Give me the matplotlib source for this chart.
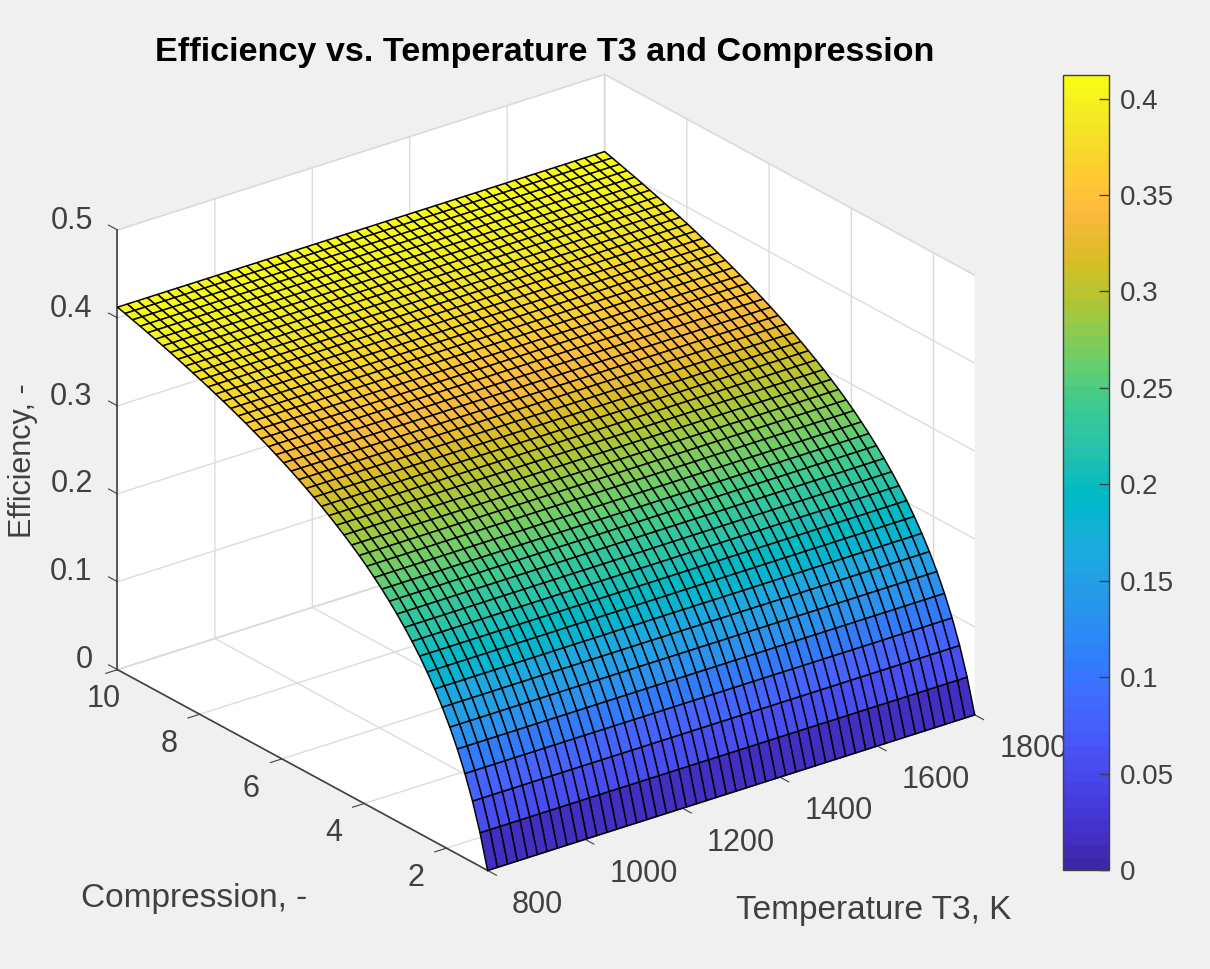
import numpy as np
import matplotlib
matplotlib.use('Agg')
import matplotlib.pyplot as plt
from matplotlib.colors import ListedColormap, Normalize

plt.rcParams['font.family'] = ['Liberation Sans', 'DejaVu Sans']

# grid (50 x 50 cells edges)
temperature = [800, 820, 841, 861, 882, 902, 922, 943, 963, 984,
               1004, 1024, 1045, 1065, 1086, 1106, 1127, 1147, 1167, 1188,
               1208, 1229, 1249, 1269, 1290, 1310, 1331, 1351, 1371, 1392,
               1412, 1433, 1453, 1473, 1494, 1514, 1535, 1555, 1576, 1596,
               1616, 1637, 1657, 1678, 1698, 1718, 1739, 1759, 1780, 1800]
compression = [1.000, 1.184, 1.367, 1.551, 1.735, 1.918, 2.102, 2.286, 2.469, 2.653,
               2.837, 3.020, 3.204, 3.388, 3.571, 3.755, 3.939, 4.122, 4.306, 4.490,
               4.673, 4.857, 5.041, 5.224, 5.408, 5.592, 5.776, 5.959, 6.143, 6.327,
               6.510, 6.694, 6.878, 7.061, 7.245, 7.429, 7.612, 7.796, 7.980, 8.163,
               8.347, 8.531, 8.714, 8.898, 9.082, 9.265, 9.449, 9.633, 9.816, 10.000]
efficiency = [0.0000, 0.0382, 0.0696, 0.0963, 0.1194, 0.1396, 0.1576, 0.1737, 0.1883, 0.2017,
              0.2139, 0.2251, 0.2356, 0.2455, 0.2546, 0.2632, 0.2713, 0.2789, 0.2861, 0.2929,
              0.2994, 0.3056, 0.3115, 0.3172, 0.3226, 0.3279, 0.3329, 0.3377, 0.3423, 0.3468,
              0.3511, 0.3552, 0.3593, 0.3631, 0.3669, 0.3705, 0.3740, 0.3775, 0.3808, 0.3840,
              0.3872, 0.3903, 0.3933, 0.3962, 0.3990, 0.4018, 0.4045, 0.4071, 0.4097, 0.4122]

x_ticks = [800, 1000, 1200, 1400, 1600, 1800]
y_ticks = [2, 4, 6, 8, 10]
z_ticks = [0, 0.1, 0.2, 0.3, 0.4, 0.5]
cbar_ticks = [0, 0.05, 0.1, 0.15, 0.2, 0.25, 0.3, 0.35, 0.4]
cbar_labels = ['0', '0.05', '0.1', '0.15', '0.2', '0.25', '0.3', '0.35', '0.4']

parula = ListedColormap([
    [0.2422, 0.1504, 0.6603], [0.2504, 0.1650, 0.7076], [0.2578, 0.1818, 0.7511], [0.2647, 0.1978, 0.7952],
    [0.2706, 0.2147, 0.8364], [0.2751, 0.2342, 0.8710], [0.2783, 0.2559, 0.8991], [0.2803, 0.2782, 0.9221],
    [0.2813, 0.3006, 0.9414], [0.2810, 0.3228, 0.9579], [0.2795, 0.3447, 0.9717], [0.2760, 0.3667, 0.9829],
    [0.2699, 0.3892, 0.9906], [0.2602, 0.4123, 0.9952], [0.2440, 0.4358, 0.9988], [0.2206, 0.4603, 0.9973],
    [0.1963, 0.4847, 0.9892], [0.1834, 0.5074, 0.9798], [0.1786, 0.5289, 0.9682], [0.1764, 0.5499, 0.9520],
    [0.1687, 0.5703, 0.9359], [0.1540, 0.5902, 0.9218], [0.1460, 0.6091, 0.9079], [0.1380, 0.6276, 0.8973],
    [0.1248, 0.6459, 0.8883], [0.1113, 0.6635, 0.8763], [0.0952, 0.6798, 0.8598], [0.0689, 0.6948, 0.8394],
    [0.0297, 0.7082, 0.8163], [0.0036, 0.7203, 0.7917], [0.0067, 0.7312, 0.7660], [0.0433, 0.7411, 0.7394],
    [0.0964, 0.7500, 0.7120], [0.1408, 0.7584, 0.6842], [0.1717, 0.7670, 0.6554], [0.1938, 0.7758, 0.6251],
    [0.2161, 0.7843, 0.5923], [0.2470, 0.7918, 0.5567], [0.2906, 0.7973, 0.5188], [0.3406, 0.8008, 0.4789],
    [0.3909, 0.8029, 0.4354], [0.4456, 0.8024, 0.3909], [0.5044, 0.7993, 0.3480], [0.5616, 0.7942, 0.3045],
    [0.6174, 0.7876, 0.2612], [0.6720, 0.7793, 0.2227], [0.7242, 0.7698, 0.1910], [0.7738, 0.7598, 0.1646],
    [0.8203, 0.7498, 0.1535], [0.8634, 0.7406, 0.1596], [0.9035, 0.7330, 0.1774], [0.9393, 0.7288, 0.2100],
    [0.9728, 0.7298, 0.2394], [0.9956, 0.7434, 0.2371], [0.9970, 0.7659, 0.2199], [0.9952, 0.7893, 0.2028],
    [0.9892, 0.8136, 0.1885], [0.9786, 0.8386, 0.1766], [0.9676, 0.8639, 0.1643], [0.9610, 0.8890, 0.1537],
    [0.9597, 0.9135, 0.1423], [0.9628, 0.9373, 0.1265], [0.9691, 0.9606, 0.1064], [0.9769, 0.9839, 0.0805]])

TEXT = '#404040'
BG = '#f0f0f0'
W, H = 1210, 969

fig = plt.figure(figsize=(W / 100, H / 100), dpi=100, facecolor=BG)

# =================================================================================================
# surface
ax = fig.add_axes([48.5 / W, -1 / H, 969 / W, 969 / H], projection='3d', proj_type='ortho', facecolor='none')
ax.view_init(elev=24.6, azim=-127.5)
ax.set_box_aspect((612, 606, 482), zoom=0.992)

X, Y = np.meshgrid(temperature, compression)
Z = np.tile(np.array(efficiency)[:, None], (1, len(temperature)))
norm = Normalize(0, max(efficiency))
surf = ax.plot_surface(X, Y, Z, rstride=1, cstride=1, cmap=parula, norm=norm,
                       edgecolor='#050505', linewidth=1.1, shade=False, antialiased=True)

ax.set_xlim(800, 1800)
ax.set_ylim(1, 10)
ax.set_zlim(0, 0.5)
ax.set_xticks(x_ticks)
ax.set_yticks(y_ticks)
ax.set_zticks(z_ticks)
ax.set_zticklabels(['0', '0.1', '0.2', '0.3', '0.4', '0.5'])
ax.tick_params(labelsize=22, labelcolor=TEXT, color=TEXT)
ax.tick_params(axis='x', pad=16)
ax.tick_params(axis='y', pad=15)
ax.tick_params(axis='z', pad=2.5)

# z ticks lean along the y direction, as on the reference
ax.zaxis._AXINFO['z']['tickdir'] = 1

for axis in (ax.xaxis, ax.yaxis, ax.zaxis):
    axis.set_pane_color((1, 1, 1, 1))
    axis.pane.set_edgecolor('#d9d9d9')
    axis.line.set_color(TEXT)
    axis.line.set_linewidth(1.2)
    axis._axinfo['grid']['color'] = '#dcdcdc'
    axis._axinfo['grid']['linewidth'] = 1.0

# x and y ticks have to point away from the box
for axis in (ax.xaxis, ax.yaxis):
    axis._axinfo['tick']['inward_factor'] = 0.3
    axis._axinfo['tick']['outward_factor'] = 0
ax.zaxis._axinfo['tick']['inward_factor'] = 0
ax.zaxis._axinfo['tick']['outward_factor'] = 0.3

for tick in ax.xaxis.get_major_ticks():
    tick.label1.set_ha('left')
    tick.label1.set_va('baseline')
for tick in ax.yaxis.get_major_ticks():
    tick.label1.set_va('baseline')
ax.yaxis.get_major_ticks()[-1].label1.set_ha('left')
for tick in ax.zaxis.get_major_ticks():
    tick.label1.set_ha('right')
    tick.label1.set_va('baseline')

fig.text(194 / W, 1 - 898 / H, 'Compression, -', fontsize=24, color=TEXT, ha='center', va='center')
fig.text(874 / W, 1 - 910 / H, 'Temperature T3, K', fontsize=24, color=TEXT, ha='center', va='center')
fig.text(23 / W, 1 - 461 / H, 'Efficiency, -', fontsize=22, color=TEXT, ha='center', va='center', rotation=90)

fig.text(545 / W, 1 - 52 / H, 'Efficiency vs. Temperature T3 and Compression',
         fontsize=24.6, fontweight='bold', color='k', ha='center', va='center')

# =================================================================================================
# colorbar
cax = fig.add_axes([1063 / W, 1 - 870 / H, 46 / W, 795 / H])
cbar = fig.colorbar(surf, cax=cax, ticks=cbar_ticks)
cbar.ax.set_yticklabels(cbar_labels)
cbar.ax.tick_params(direction='in', length=7, width=1, labelsize=20, labelcolor=TEXT, color=TEXT, pad=8)
cbar.outline.set_edgecolor(TEXT)
cbar.outline.set_linewidth(1)

fig.savefig('out.png', dpi=100, facecolor=BG)
